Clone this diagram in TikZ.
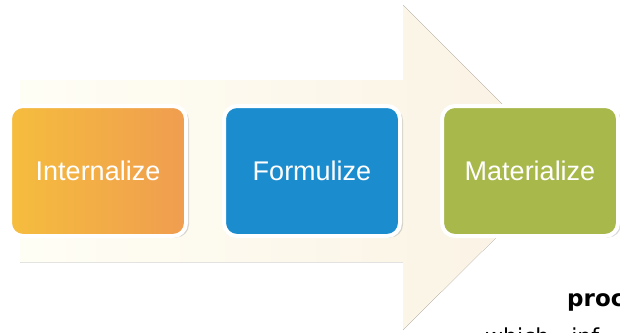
\documentclass[tikz,border=0pt]{standalone}
\usepackage{fontspec}
\setmainfont{Liberation Sans}
\newfontfamily\dejavu{DejaVu Sans}
\usetikzlibrary{positioning, shadows}

\definecolor{shaftpale}{HTML}{FFFEF5}
\definecolor{headtan}{HTML}{FAF2E3}
\definecolor{intleft}{HTML}{F5BD3D}
\definecolor{intright}{HTML}{F09D50}
\definecolor{formblue}{HTML}{1B8DCF}
\definecolor{matgreen}{HTML}{A8B84B}

\begin{document}
\begin{tikzpicture}[
            x=1pt, y=-1pt,
            stage/.style={
                rounded corners=13pt,
                draw=white, line width=4pt,
                minimum width=176pt, minimum height=130pt,
                text=white, font=\fontsize{27}{30}\selectfont,
                drop shadow={shadow xshift=3pt, shadow yshift=-1.5pt,
                    opacity=.3, fill=black!50}
            },
            remark/.style={font=\dejavu\fontsize{22}{26}\selectfont, anchor=base west, inner sep=0pt}
        ]
        \useasboundingbox (0, 0) rectangle (620, 332);
        \clip (0, 0) rectangle (620, 332);

        % big pale arrow behind the stages
        \fill[left color=shaftpale, right color=headtan]
            (20, 80) -- (403, 80) -- (403, 5) -- (566, 168) -- (403, 330) -- (403, 262) -- (20, 262) -- cycle;

        \node[stage, left color=intleft, right color=intright] (internalize) at (98, 171) {Internalize};
        \node[stage, fill=formblue, right=34pt of internalize] (formulize) {Formulize};
        \node[stage, fill=matgreen, right=38pt of formulize] (materialize) {Materialize};

        \node[remark, font=\dejavu\bfseries\fontsize{23}{26}\selectfont] (proc) at (567, 306) {proc};
        \node[remark] (which) at (485, 344) {which\hspace{22pt}inf};
    \end{tikzpicture}
\end{document}
